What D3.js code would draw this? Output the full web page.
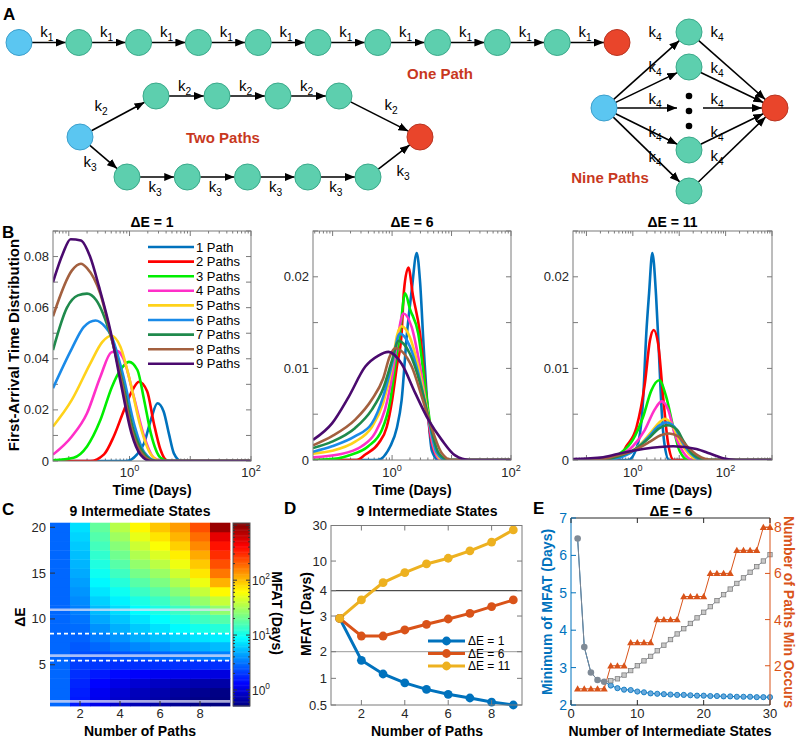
<!DOCTYPE html>
<html><head><meta charset="utf-8">
<script src="https://cdn.jsdelivr.net/npm/d3@7"></script>
<style>
body{margin:0;background:#fff;}
svg text{font-family:"Liberation Sans",Arial,Helvetica,sans-serif;}
</style></head>
<body><svg id="fig" width="800" height="738" xmlns="http://www.w3.org/2000/svg"></svg>
<script>
// ================= DATA =================
// Panel A: number of intermediate states on each path
const onePathStates = 9;
const twoPathStates = [4, 5];
// Panel B: first-arrival time distributions, points are [log10(time in days), density]
const pathLabels = ["1 Path","2 Paths","3 Paths","4 Paths","5 Paths","6 Paths","7 Paths","8 Paths","9 Paths"];
const pathColors = ["#0072BD","#FF0000","#00EE00","#FF2FC8","#FFD21A","#1A8AE8","#1F8A4C","#A3603F","#4A0A6E"];
const fatDE1 = [
 [[-1.26,0],[-0.05,0],[0.12,0.0025],[0.24,0.007],[0.35,0.016],[0.46,0.0226],[0.56,0.0195],[0.65,0.0105],[0.73,0.003],[0.85,0],[2,0]],
 [[-1.26,0],[-0.65,0],[-0.42,0.0026],[-0.26,0.0096],[-0.09,0.020],[0.04,0.0273],[0.155,0.031],[0.29,0.0273],[0.40,0.0148],[0.51,0.0044],[0.63,0],[2,0]],
 [[-1.26,0.0003],[-0.92,0.0013],[-0.7,0.0057],[-0.48,0.016],[-0.29,0.029],[-0.15,0.0356],[-0.01,0.0388],[0.13,0.0356],[0.24,0.0239],[0.35,0.0109],[0.51,0.0013],[0.65,0],[2,0]],
 [[-1.26,0.0025],[-0.95,0.0096],[-0.7,0.0187],[-0.48,0.033],[-0.3,0.0425],[-0.2,0.043],[-0.1,0.040],[0.07,0.0252],[0.24,0.0096],[0.4,0.0013],[0.55,0],[2,0]],
 [[-1.26,0.0135],[-0.95,0.0239],[-0.645,0.0382],[-0.45,0.0465],[-0.3,0.049],[-0.15,0.0447],[0.017,0.0304],[0.18,0.0135],[0.35,0.0026],[0.5,0],[2,0]],
 [[-1.26,0.0285],[-0.95,0.044],[-0.755,0.0524],[-0.56,0.055],[-0.4,0.0525],[-0.3,0.049],[-0.1,0.033],[0.08,0.014],[0.24,0.0035],[0.45,0],[2,0]],
 [[-1.26,0.0434],[-1.03,0.060],[-0.85,0.0648],[-0.7,0.0655],[-0.55,0.063],[-0.31,0.049],[-0.12,0.0315],[0.06,0.0125],[0.22,0.0035],[0.42,0],[2,0]],
 [[-1.26,0.0566],[-0.95,0.0745],[-0.8,0.0772],[-0.7,0.0755],[-0.48,0.0654],[-0.31,0.0495],[-0.13,0.031],[0.04,0.012],[0.2,0.003],[0.4,0],[2,0]],
 [[-1.26,0.070],[-1.1,0.081],[-0.97,0.0868],[-0.8,0.0863],[-0.65,0.080],[-0.5,0.068],[-0.31,0.0505],[-0.14,0.030],[0.03,0.011],[0.18,0.0025],[0.35,0],[2,0]]
];
const fatDE6 = [
 [[-1.33,0],[-0.25,0],[-0.03,0.0015],[0.08,0.0035],[0.16,0.0065],[0.25,0.0138],[0.33,0.0185],[0.415,0.0226],[0.47,0.0195],[0.53,0.0125],[0.6,0.0055],[0.67,0.001],[0.78,0],[2,0]],
 [[-1.33,0],[-0.6,0],[-0.45,0.0006],[-0.23,0.0018],[-0.09,0.0036],[0.0,0.0065],[0.08,0.0102],[0.16,0.0138],[0.2,0.0185],[0.275,0.021],[0.35,0.018],[0.47,0.0138],[0.555,0.0084],[0.64,0.0029],[0.76,0.0004],[0.88,0],[2,0]],
 [[-1.33,0],[-0.9,0.0002],[-0.73,0.0005],[-0.4,0.0015],[-0.17,0.0033],[-0.03,0.0065],[0.05,0.0102],[0.13,0.0138],[0.22,0.0182],[0.3,0.0165],[0.44,0.0138],[0.555,0.0081],[0.667,0.0029],[0.78,0.0004],[0.9,0],[2,0]],
 [[-1.33,0.0003],[-0.9,0.0006],[-0.51,0.0015],[-0.29,0.0029],[-0.12,0.0055],[0.0,0.0091],[0.106,0.0138],[0.19,0.016],[0.33,0.0145],[0.47,0.0102],[0.58,0.0058],[0.69,0.0015],[0.82,0],[2,0]],
 [[-1.33,0.0007],[-1.01,0.001],[-0.62,0.002],[-0.34,0.0036],[-0.15,0.0062],[0.0,0.0102],[0.08,0.0135],[0.16,0.0146],[0.3,0.0134],[0.44,0.0102],[0.58,0.0058],[0.72,0.0012],[0.85,0],[2,0]],
 [[-1.33,0.0009],[-1.01,0.0015],[-0.62,0.0026],[-0.34,0.004],[-0.15,0.0069],[0.0,0.0105],[0.13,0.0138],[0.3,0.0124],[0.44,0.0095],[0.58,0.0055],[0.75,0.0008],[0.9,0],[2,0]],
 [[-1.33,0.0013],[-1.01,0.002],[-0.62,0.0035],[-0.34,0.0055],[-0.15,0.0078],[0.0,0.0109],[0.106,0.013],[0.3,0.0116],[0.47,0.0084],[0.61,0.0047],[0.78,0.0008],[0.95,0],[2,0]],
 [[-1.33,0.0016],[-1.01,0.0026],[-0.62,0.0044],[-0.34,0.0066],[-0.15,0.0089],[-0.04,0.0113],[0.05,0.0122],[0.33,0.0102],[0.5,0.0069],[0.64,0.004],[0.84,0.0007],[1.0,0],[2,0]],
 [[-1.33,0.0022],[-1.01,0.004],[-0.73,0.0069],[-0.45,0.0102],[-0.23,0.0114],[-0.06,0.0118],[0.16,0.0105],[0.39,0.0073],[0.61,0.0044],[0.835,0.0022],[1.06,0.0005],[1.3,0],[2,0]]
];
const fatDE11 = [
 [[-1.29,0],[-0.1,0],[0.11,0.0018],[0.22,0.0065],[0.29,0.0138],[0.35,0.0182],[0.42,0.0226],[0.5,0.018],[0.56,0.012],[0.62,0.0055],[0.68,0.0018],[0.78,0],[3,0]],
 [[-1.29,0],[-0.35,0],[-0.14,0.0015],[0.08,0.0036],[0.26,0.0084],[0.37,0.0131],[0.45,0.0142],[0.545,0.0127],[0.66,0.0065],[0.76,0.0018],[0.88,0],[3,0]],
 [[-1.29,0],[-0.55,0],[-0.28,0.0007],[0.0,0.0022],[0.22,0.0047],[0.4,0.0076],[0.567,0.0087],[0.72,0.0069],[0.87,0.0036],[1.0,0.0011],[1.2,0],[3,0]],
 [[-1.29,0],[-0.6,0],[-0.28,0.0005],[0.0,0.0015],[0.26,0.0033],[0.47,0.0055],[0.62,0.0064],[0.76,0.0055],[0.9,0.0029],[1.08,0.0009],[1.3,0],[3,0]],
 [[-1.29,0],[-0.6,0],[-0.2,0.0005],[0.08,0.0013],[0.37,0.0029],[0.55,0.004],[0.69,0.0045],[0.87,0.0036],[1.0,0.0022],[1.2,0.0007],[1.4,0],[3,0]],
 [[-1.29,0],[-0.6,0],[-0.2,0.0004],[0.08,0.0012],[0.37,0.0027],[0.55,0.0037],[0.72,0.0041],[0.9,0.0036],[1.05,0.0021],[1.25,0.0007],[1.5,0],[3,0]],
 [[-1.29,0],[-0.7,0],[-0.3,0.0004],[0.05,0.0012],[0.37,0.0025],[0.55,0.0034],[0.75,0.0038],[0.95,0.0033],[1.1,0.002],[1.3,0.0006],[1.6,0],[3,0]],
 [[-1.29,0],[-0.8,0],[-0.4,0.0004],[0.0,0.001],[0.37,0.002],[0.6,0.0027],[0.78,0.0029],[0.97,0.0026],[1.15,0.0016],[1.4,0.0005],[1.7,0],[3,0]],
 [[-1.29,0.0001],[-0.64,0.0003],[-0.21,0.0008],[0.22,0.0012],[0.87,0.0015],[1.37,0.0012],[1.66,0.0007],[1.94,0.0002],[2.23,0],[3,0]]
];
// Panel C: MFAT (days), one array per number of paths, ΔE = 1..20
const nPathsC = [1,2,3,4,5,6,7,8,9];
const deltaEC = [1,2,3,4,5,6,7,8,9,10,11,12,13,14,15,16,17,18,19,20];
const mfatGrid = [
 [2.9,2.9,2.9,2.9,2.9,2.9,2.9,2.9,2.9,2.9,2.9,2.9,2.9,2.9,2.9,2.9,2.9,2.9,2.9,2.9],
 [1.6,1.65,1.75,1.9,2.1,2.4,2.6,2.8,3.0,3.2,3.5,3.8,4.1,4.4,4.8,5.2,5.6,6.1,6.6,7.2],
 [1.15,1.2,1.35,1.6,2.0,2.4,2.9,3.4,4.0,4.7,5.5,6.4,7.5,8.7,10,11.5,13,15,17,19],
 [0.9,0.95,1.1,1.4,1.9,2.55,3.3,4.1,5.0,5.9,7,8.3,10,12,14.5,17.5,21,25,30,36],
 [0.77,0.8,0.95,1.3,1.9,2.7,3.7,4.9,6.1,7.4,9,11,14,17.5,22,27.5,34,42,52,65],
 [0.68,0.72,0.85,1.2,1.9,2.9,4.2,5.7,7.3,9,11,14,18,23,29,37,47,60,75,95],
 [0.6,0.64,0.78,1.15,1.9,3.1,4.7,6.6,8.8,11,14,19,25,33,43,55,70,88,108,130],
 [0.54,0.58,0.72,1.1,1.9,3.3,5.0,7.4,10.5,14.5,19,28,40,54,74,93,117,150,185,233],
 [0.5,0.53,0.68,1.05,1.9,3.55,5.5,8,12,17,27,41,64,110,172,233,300,370,510,900]
];
const highlightDE = [1, 6, 11];
const boundaryDE = [5.45, 8.4];
const colorbarTicks = [1, 10, 100];
// Panel D
const nPathsD = [1,2,3,4,5,6,7,8,9];
const mfatD_DE1 = [2.92,1.6,1.12,0.89,0.75,0.66,0.6,0.54,0.5];
const mfatD_DE6 = [2.92,2.39,2.39,2.56,2.73,2.9,3.09,3.34,3.6];
const mfatD_DE11 = [2.92,3.6,5.13,6.98,9.15,10.9,13.7,18,26.2];
const seriesD = ["ΔE = 1","ΔE = 6","ΔE = 11"];
const colorsD = ["#0072BD","#D95319","#EDB120"];
const yTicksD = [0.5,1,2,3,4,10,30];
// Panel E
const statesE = [1,2,3,4,5,6,7,8,9,10,11,12,13,14,15,16,17,18,19,20,21,22,23,24,25,26,27,28,29,30];
const minMFAT_E = [6.45,3.55,2.87,2.67,2.62,2.52,2.45,2.41,2.4,2.36,2.34,2.31,2.3,2.29,2.28,2.27,2.27,2.26,2.25,2.25,2.24,2.24,2.23,2.23,2.22,2.22,2.22,2.21,2.21,2.21];
const onePathMFAT_E = [6.45,3.55,2.87,2.67,2.62,2.65,2.7,2.8,2.92,3.05,3.18,3.3,3.45,3.6,3.75,3.9,4.04,4.18,4.33,4.48,4.63,4.79,4.95,5.1,5.25,5.4,5.55,5.7,5.85,6.02];
const pathsAtMin_E = [1,1,1,1,1,2,2,2,3,3,3,3,4,4,4,4,5,5,5,5,6,6,6,6,7,7,7,7,8,8];

// ================= DRAWING =================
const svg = d3.select('#fig');
svg.append('rect').attr('width',800).attr('height',738).attr('fill','#fff');
const defs = svg.append('defs');
defs.append('marker').attr('id','ah').attr('viewBox','0 0 10 8').attr('refX',10).attr('refY',4)
  .attr('markerWidth',10).attr('markerHeight',8).attr('markerUnits','userSpaceOnUse').attr('orient','auto')
  .append('path').attr('d','M0,0L10,4L0,8z').attr('fill','#000');

const AX = '#7a7a7a', TXT = '#262626';
const TICK_Y = 718, XLAB_Y = 735.5;
function text(g, x, y, s, size, o = {}) {
  const t = g.append('text').attr('x', x).attr('y', y).attr('font-size', size)
    .attr('text-anchor', o.anchor || 'middle').attr('fill', o.fill || TXT).text(s);
  if (o.bold) t.attr('font-weight', 'bold');
  if (o.rotate) t.attr('transform', `rotate(${o.rotate},${x},${y})`);
  return t;
}
function sub(g, x, y, base, s, size, o = {}) {
  const t = text(g, x, y, base, size, o);
  t.append('tspan').attr('dy', 4).attr('font-size', size * 0.68).text(s);
  return t;
}
function pow10(g, x, y, e, size, anchor) {
  const t = text(g, x, y, '10', size, {anchor: anchor || 'middle'});
  t.append('tspan').attr('dy', -6).attr('font-size', size * 0.7).text(e);
  return t;
}

// ---------- Panel A ----------
const A = svg.append('g');
text(A, 3, 20, 'A', 17, {anchor:'start', bold:true, fill:'#000'});
const R = 13;
const nodeStyle = {
  start: ['#5BC6F1', '#3b9fcc'], mid: ['#5DCFAE', '#3aa98a'], end: ['#E9452B', '#b93421']
};
function node(x, y, type) {
  A.append('circle').attr('cx', x).attr('cy', y).attr('r', R)
    .attr('fill', nodeStyle[type][0]).attr('stroke', nodeStyle[type][1]).attr('stroke-width', 1);
}
function arrow(x1, y1, x2, y2, head = true) {
  const l = A.append('line').attr('x1', x1).attr('y1', y1).attr('x2', x2).attr('y2', y2)
    .attr('stroke', '#000').attr('stroke-width', 1.6);
  if (head) l.attr('marker-end', 'url(#ah)');
}
function link(p, q, head = true) {
  const dx = q[0] - p[0], dy = q[1] - p[1], L = Math.hypot(dx, dy);
  const ux = dx / L, uy = dy / L;
  arrow(p[0] + ux * R, p[1] + uy * R, q[0] - ux * R, q[1] - uy * R, head);
}
// one path
const r1 = d3.scaleLinear().domain([0, onePathStates + 1]).range([19, 617]);
const y1 = 42.5;
d3.range(onePathStates + 1).forEach(i => {
  link([r1(i), y1], [r1(i + 1), y1]);
  sub(A, (r1(i) + r1(i + 1)) / 2 - 2, 36.5, 'k', '1', 15, {fill:'#000'});
});
d3.range(onePathStates + 2).forEach(i => node(r1(i), y1, i === 0 ? 'start' : (i === onePathStates + 1 ? 'end' : 'mid')));
text(A, 440, 79, 'One Path', 15, {bold:true, fill:'#C8381E'});
// two paths
const s2 = [80, 137], e2 = [420, 137];
const up = d3.scaleLinear().domain([0, twoPathStates[0] - 1]).range([156, 339]);
const lo = d3.scaleLinear().domain([0, twoPathStates[1] - 1]).range([127, 368]);
const upPts = d3.range(twoPathStates[0]).map(i => [up(i), 96]);
const loPts = d3.range(twoPathStates[1]).map(i => [lo(i), 177]);
link(s2, upPts[0]);
upPts.slice(0, -1).forEach((p, i) => { link(p, upPts[i + 1]); sub(A, (p[0] + upPts[i + 1][0]) / 2 - 2, 91, 'k', '2', 15, {fill:'#000'}); });
link(upPts[upPts.length - 1], e2);
link(s2, loPts[0]);
loPts.slice(0, -1).forEach((p, i) => { link(p, loPts[i + 1]); sub(A, (p[0] + loPts[i + 1][0]) / 2 - 2, 192, 'k', '3', 15, {fill:'#000'}); });
link(loPts[loPts.length - 1], e2);
sub(A, 101, 111, 'k', '2', 15, {fill:'#000'});
sub(A, 391, 110, 'k', '2', 15, {fill:'#000'});
sub(A, 90, 167, 'k', '3', 15, {fill:'#000'});
sub(A, 403, 176, 'k', '3', 15, {fill:'#000'});
node(s2[0], s2[1], 'start'); node(e2[0], e2[1], 'end');
upPts.forEach(p => node(p[0], p[1], 'mid'));
loPts.forEach(p => node(p[0], p[1], 'mid'));
text(A, 223, 143, 'Two Paths', 15, {bold:true, fill:'#C8381E'});
// nine paths
const s9 = [604, 108], e9 = [775, 108];
const ninePts = [[689, 32], [689, 67], [689, 150], [689, 191]];
ninePts.forEach(p => { link(s9, p); link(p, e9); });
arrow(s9[0] + R, 108, 677, 108);
arrow(703, 108, e9[0] - R, 108);
[37, 72, 104, 137, 162].forEach(b => sub(A, 655, b, 'k', '4', 15, {fill:'#000'}));
[37, 73, 104, 137, 161].forEach(b => sub(A, 717, b, 'k', '4', 15, {fill:'#000'}));
[96, 111, 126].forEach(y => A.append('circle').attr('cx', 689).attr('cy', y).attr('r', 3.3).attr('fill', '#000'));
node(s9[0], s9[1], 'start'); node(e9[0], e9[1], 'end');
ninePts.forEach(p => node(p[0], p[1], 'mid'));
text(A, 610, 183, 'Nine Paths', 15, {bold:true, fill:'#C8381E'});

// ---------- Panel B ----------
text(svg, 2, 238, 'B', 17, {anchor:'start', bold:true, fill:'#000'});
function panelB(id, data, title, box, xlo, xhi, ymax, yStep, yLabStep, labelDecades, legend) {
  const g = svg.append('g');
  const x = d3.scaleLog().domain([10 ** xlo, 10 ** xhi]).range([box[0], box[2]]);
  const y = d3.scaleLinear().domain([0, ymax]).range([box[3], box[1]]);
  defs.append('clipPath').attr('id', id).append('rect')
    .attr('x', box[0]).attr('y', box[1]).attr('width', box[2] - box[0]).attr('height', box[3] - box[1]);
  const xt = g.append('g');
  for (let e = Math.floor(xlo); e <= Math.ceil(xhi); e++) {
    for (let m = 1; m <= 9; m++) {
      const v = m * 10 ** e;
      if (v < 10 ** xlo || v > 10 ** xhi) continue;
      const len = m === 1 ? 5 : 2.5;
      const xx = x(v);
      xt.append('line').attr('x1', xx).attr('x2', xx).attr('y1', box[3]).attr('y2', box[3] - len).attr('stroke', AX);
      xt.append('line').attr('x1', xx).attr('x2', xx).attr('y1', box[1]).attr('y2', box[1] + len).attr('stroke', AX);
    }
  }
  labelDecades.forEach(e => pow10(g, x(10 ** e), 477, e, 13));
  const nT = Math.round(ymax / yStep);
  for (let i = 0; i <= nT; i++) {
    const v = i * yStep, yy = y(v);
    g.append('line').attr('x1', box[0]).attr('x2', box[0] + 5).attr('y1', yy).attr('y2', yy).attr('stroke', AX);
    g.append('line').attr('x1', box[2]).attr('x2', box[2] - 5).attr('y1', yy).attr('y2', yy).attr('stroke', AX);
    if (Math.abs(v / yLabStep - Math.round(v / yLabStep)) < 1e-6)
      text(g, box[0] - 4, yy + 4.5, v === 0 ? '0' : d3.format('.2~f')(v), 13, {anchor:'end'});
  }
  const line = d3.line().x(d => x(10 ** d[0])).y(d => y(d[1])).curve(d3.curveMonotoneX);
  const lg = g.append('g').attr('clip-path', `url(#${id})`);
  data.forEach((s, i) => lg.append('path').attr('d', line(s)).attr('fill', 'none')
    .attr('stroke', pathColors[i]).attr('stroke-width', 2.6).attr('stroke-linejoin', 'round'));
  g.append('rect').attr('x', box[0]).attr('y', box[1]).attr('width', box[2] - box[0]).attr('height', box[3] - box[1])
    .attr('fill', 'none').attr('stroke', AX);
  text(g, (box[0] + box[2]) / 2, 227, title, 14, {bold:true, fill:'#000'});
  text(g, (box[0] + box[2]) / 2, 495, 'Time (Days)', 14, {bold:true, fill:'#000'});
  if (legend) {
    pathLabels.forEach((lab, i) => {
      const yy = 247 + i * 14.6;
      g.append('line').attr('x1', 148).attr('x2', 194).attr('y1', yy).attr('y2', yy)
        .attr('stroke', pathColors[i]).attr('stroke-width', 2.6);
      text(g, 196, yy + 4.5, lab, 13, {anchor:'start', fill:'#000'});
    });
  }
}
panelB('cb1', fatDE1, 'ΔE = 1', [53, 231, 251, 461], -1.26, 2, 0.09, 0.01, 0.02, [0, 2], true);
panelB('cb2', fatDE6, 'ΔE = 6', [313, 231, 511, 460], -1.33, 2, 0.025, 0.005, 0.01, [0, 2], false);
panelB('cb3', fatDE11, 'ΔE = 11', [573, 231, 772, 460], -1.29, 3, 0.025, 0.005, 0.01, [0, 2], false);
text(svg, 19, 345, 'First-Arrival Time Distribution', 15, {bold:true, fill:'#000', rotate:-90});

// ---------- Panel C ----------
const C = svg.append('g');
text(C, 2, 515, 'C', 17, {anchor:'start', bold:true, fill:'#000'});
function jet(t) {
  t = Math.max(0, Math.min(1, t));
  const c = v => Math.round(255 * Math.max(0, Math.min(1, v)));
  return `rgb(${c(1.5 - Math.abs(4 * t - 3))},${c(1.5 - Math.abs(4 * t - 2))},${c(1.5 - Math.abs(4 * t - 1))})`;
}
const cLo = 0.51, cHi = 1100;
const cNorm = d3.scaleLog().domain([cLo, cHi]).range([0, 1]);
const xc = d3.scaleLinear().domain([0.5, 9.5]).range([50, 230]);
const yc = d3.scaleLinear().domain([0.5, 20.5]).range([706, 522.7]);
nPathsC.forEach((p, pi) => deltaEC.forEach((e, ei) => {
  C.append('rect').attr('x', xc(p - 0.5)).attr('y', yc(e + 0.5))
    .attr('width', xc(p + 0.5) - xc(p - 0.5) + 0.4).attr('height', yc(e - 0.5) - yc(e + 0.5) + 0.4)
    .attr('fill', jet(cNorm(mfatGrid[pi][ei])));
}));
highlightDE.forEach(e => C.append('line').attr('x1', xc(0.5)).attr('x2', xc(9.5)).attr('y1', yc(e)).attr('y2', yc(e))
  .attr('stroke', 'rgba(225,225,245,0.75)').attr('stroke-width', 2.6));
boundaryDE.forEach(e => C.append('line').attr('x1', xc(0.5)).attr('x2', xc(9.5)).attr('y1', yc(e)).attr('y2', yc(e))
  .attr('stroke', '#fff').attr('stroke-width', 1.6).attr('stroke-dasharray', '4,3'));
[2, 4, 6, 8].forEach(v => {
  C.append('line').attr('x1', xc(v)).attr('x2', xc(v)).attr('y1', 706).attr('y2', 701).attr('stroke', '#333');
  text(C, xc(v), TICK_Y, String(v), 13);
});
[5, 10, 15, 20].forEach(v => {
  C.append('line').attr('x1', 50).attr('x2', 55).attr('y1', yc(v)).attr('y2', yc(v)).attr('stroke', '#333');
  text(C, 46, yc(v) + 4.5, String(v), 13, {anchor:'end'});
});
text(C, 140, 516, '9 Intermediate States', 14, {bold:true, fill:'#000'});
text(C, 140, XLAB_Y, 'Number of Paths', 14, {bold:true, fill:'#000'});
text(C, 25, 617, 'ΔE', 14, {bold:true, fill:'#000', rotate:-90});
// colorbar
const cb = d3.scaleLog().domain([cLo, cHi]).range([706, 523]);
const nb = 150;
d3.range(nb).forEach(i => {
  const y0 = 706 - (i + 1) * 183 / nb;
  C.append('rect').attr('x', 233).attr('y', y0).attr('width', 17).attr('height', 183 / nb + 0.5)
    .attr('fill', jet((i + 0.5) / nb));
});
C.append('rect').attr('x', 233).attr('y', 523).attr('width', 17).attr('height', 183).attr('fill', 'none').attr('stroke', '#555');
for (let e = -1; e <= 3; e++) for (let m = 1; m <= 9; m++) {
  const v = m * 10 ** e;
  if (v < cLo || v > cHi) continue;
  const len = m === 1 ? 4 : 2;
  C.append('line').attr('x1', 250).attr('x2', 250 - len).attr('y1', cb(v)).attr('y2', cb(v)).attr('stroke', '#333');
  C.append('line').attr('x1', 233).attr('x2', 233 + len).attr('y1', cb(v)).attr('y2', cb(v)).attr('stroke', '#333');
}
colorbarTicks.forEach(v => pow10(C, 252, cb(v) + 5, Math.round(Math.log10(v)), 12, 'start'));
text(C, 272, 613, 'MFAT (Days)', 14, {bold:true, fill:'#000', rotate:90});

// ---------- Panel D ----------
const D = svg.append('g');
text(D, 284, 514, 'D', 17, {anchor:'start', bold:true, fill:'#000'});
const xd = d3.scaleLinear().domain([0.6, 9.4]).range([331, 522]);
const yd = d3.scaleLog().domain([0.5, 2, 4, 30]).range([705, 651.7, 590.7, 525.5]);
D.append('line').attr('x1', 331).attr('x2', 522).attr('y1', yd(4)).attr('y2', yd(4)).attr('stroke', '#222').attr('stroke-width', 1);
D.append('line').attr('x1', 331).attr('x2', 522).attr('y1', yd(2)).attr('y2', yd(2)).attr('stroke', '#999').attr('stroke-width', 1);
const seriesDataD = [mfatD_DE1, mfatD_DE6, mfatD_DE11];
const lineD = d3.line().x((d, i) => xd(nPathsD[i])).y(d => yd(d));
seriesDataD.forEach((s, k) => {
  D.append('path').attr('d', lineD(s)).attr('fill', 'none').attr('stroke', colorsD[k]).attr('stroke-width', 3);
});
seriesDataD.forEach((s, k) => {
  s.forEach((v, i) => D.append('circle').attr('cx', xd(nPathsD[i])).attr('cy', yd(v)).attr('r', 4.4).attr('fill', colorsD[k]));
});
D.append('rect').attr('x', 331).attr('y', 525.5).attr('width', 191).attr('height', 179.5).attr('fill', 'none').attr('stroke', AX);
[2, 4, 6, 8].forEach(v => {
  D.append('line').attr('x1', xd(v)).attr('x2', xd(v)).attr('y1', 705).attr('y2', 700).attr('stroke', AX);
  D.append('line').attr('x1', xd(v)).attr('x2', xd(v)).attr('y1', 525.5).attr('y2', 530.5).attr('stroke', AX);
  text(D, xd(v), TICK_Y, String(v), 13);
});
yTicksD.forEach(v => {
  D.append('line').attr('x1', 331).attr('x2', 336).attr('y1', yd(v)).attr('y2', yd(v)).attr('stroke', AX);
  D.append('line').attr('x1', 522).attr('x2', 517).attr('y1', yd(v)).attr('y2', yd(v)).attr('stroke', AX);
  text(D, 327, yd(v) + 4.5, String(v), 13, {anchor:'end'});
});
seriesD.forEach((lab, k) => {
  const yy = 641 + k * 12.5;
  D.append('line').attr('x1', 428).attr('x2', 465).attr('y1', yy).attr('y2', yy).attr('stroke', colorsD[k]).attr('stroke-width', 3);
  D.append('circle').attr('cx', 446.5).attr('cy', yy).attr('r', 4.4).attr('fill', colorsD[k]);
  text(D, 468, yy + 4, lab, 12, {anchor:'start', fill:'#000'});
});
text(D, 427, 516, '9 Intermediate States', 14, {bold:true, fill:'#000'});
text(D, 427, XLAB_Y, 'Number of Paths', 14, {bold:true, fill:'#000'});
text(D, 311, 614, 'MFAT (Days)', 14, {bold:true, fill:'#000', rotate:-90});

// ---------- Panel E ----------
const E = svg.append('g');
const cL = '#0072BD', cR = '#D95319';
text(E, 533, 514, 'E', 17, {anchor:'start', bold:true, fill:'#000'});
const xe = d3.scaleLinear().domain([0, 30]).range([571, 770]);
const yeL = d3.scaleLinear().domain([2, 7]).range([705, 518]);
const yeR = d3.scaleLinear().domain([0.3, 8.4]).range([705, 518]);
const lineL = d3.line().x((d, i) => xe(statesE[i])).y(d => yeL(d));
const lineR = d3.line().x((d, i) => xe(statesE[i])).y(d => yeR(d));
E.append('path').attr('d', lineR(pathsAtMin_E)).attr('fill', 'none').attr('stroke', cR).attr('stroke-width', 1);
pathsAtMin_E.forEach((v, i) => {
  const cx = xe(statesE[i]), cy = yeR(v), s = 3.6;
  E.append('path').attr('d', `M${cx},${cy - s}L${cx + s},${cy + s * 0.75}L${cx - s},${cy + s * 0.75}Z`).attr('fill', cR);
});
E.append('path').attr('d', lineL(minMFAT_E)).attr('fill', 'none').attr('stroke', cL).attr('stroke-width', 1);
minMFAT_E.forEach((v, i) => {
  if (pathsAtMin_E[i] > 1)
    E.append('circle').attr('cx', xe(statesE[i])).attr('cy', yeL(v)).attr('r', 2.6).attr('fill', '#6aa9dc').attr('stroke', cL).attr('stroke-width', 0.8);
});
E.append('path').attr('d', lineL(onePathMFAT_E)).attr('fill', 'none').attr('stroke', '#7f8590').attr('stroke-width', 1);
onePathMFAT_E.forEach((v, i) => {
  const cx = xe(statesE[i]), cy = yeL(v);
  if (pathsAtMin_E[i] === 1)
    E.append('circle').attr('cx', cx).attr('cy', cy).attr('r', 3.3).attr('fill', '#7f8a96');
  else
    E.append('rect').attr('x', cx - 2.2).attr('y', cy - 2.2).attr('width', 4.4).attr('height', 4.4)
      .attr('fill', '#c8c8c8').attr('stroke', '#808080').attr('stroke-width', 0.8);
});
E.append('line').attr('x1', 571).attr('x2', 770).attr('y1', 705).attr('y2', 705).attr('stroke', '#262626');
E.append('line').attr('x1', 571).attr('x2', 770).attr('y1', 518).attr('y2', 518).attr('stroke', '#262626');
E.append('line').attr('x1', 571).attr('x2', 571).attr('y1', 518).attr('y2', 705).attr('stroke', cL);
E.append('line').attr('x1', 770).attr('x2', 770).attr('y1', 518).attr('y2', 705).attr('stroke', cR);
[0, 10, 20, 30].forEach(v => {
  E.append('line').attr('x1', xe(v)).attr('x2', xe(v)).attr('y1', 705).attr('y2', 700).attr('stroke', '#262626');
  E.append('line').attr('x1', xe(v)).attr('x2', xe(v)).attr('y1', 518).attr('y2', 523).attr('stroke', '#262626');
  text(E, xe(v), TICK_Y, String(v), 13);
});
[2, 3, 4, 5, 6, 7].forEach(v => {
  E.append('line').attr('x1', 571).attr('x2', 576).attr('y1', yeL(v)).attr('y2', yeL(v)).attr('stroke', cL);
  text(E, 567, yeL(v) + 5, String(v), 14, {anchor:'end', fill:cL});
});
[2, 4, 6, 8].forEach(v => {
  E.append('line').attr('x1', 770).attr('x2', 765).attr('y1', yeR(v)).attr('y2', yeR(v)).attr('stroke', cR);
  text(E, 774, yeR(v) + 5, String(v), 14, {anchor:'start', fill:cR});
});
text(E, 671, 516, 'ΔE = 6', 14, {bold:true, fill:'#000'});
text(E, 670, XLAB_Y, 'Number of Intermediate States', 14, {bold:true, fill:'#000'});
text(E, 552, 612, 'Minimum of MFAT (Days)', 14, {bold:true, fill:cL, rotate:-90});
text(E, 784, 612, 'Number of Paths Min Occurs', 14, {bold:true, fill:cR, rotate:90});
</script></body></html>
